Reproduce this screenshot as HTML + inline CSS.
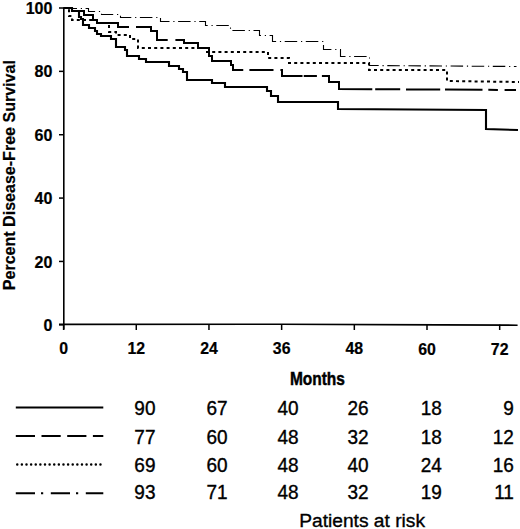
<!DOCTYPE html>
<html><head><meta charset="utf-8"><style>
html,body{margin:0;padding:0;background:#fff;}
svg{display:block;}
.b{font-family:"Liberation Sans",sans-serif;font-weight:bold;font-size:16.5px;fill:#000;stroke:#000;stroke-width:0.2px;}
.r{font-family:"Liberation Sans",sans-serif;font-size:19px;fill:#000;stroke:#000;stroke-width:0.35px;}
</style></head><body>
<svg width="520" height="529" viewBox="0 0 520 529">
<rect width="520" height="529" fill="#fff"/>
<path d="M63.8 7.2 V329.5" stroke="#000" stroke-width="1.6" fill="none"/>
<path d="M59 324.4 L280 324.2 L440 324.9 L517.6 325.2" stroke="#000" stroke-width="1.6" fill="none"/>
<path d="M59 8.00 H64" stroke="#000" stroke-width="1.5"/>
<path d="M59 71.36 H64" stroke="#000" stroke-width="1.5"/>
<path d="M59 134.72 H64" stroke="#000" stroke-width="1.5"/>
<path d="M59 198.08 H64" stroke="#000" stroke-width="1.5"/>
<path d="M59 261.44 H64" stroke="#000" stroke-width="1.5"/>
<path d="M59 324.80 H64" stroke="#000" stroke-width="1.5"/>
<path d="M63.60 324.6 V330" stroke="#000" stroke-width="1.5"/>
<path d="M136.28 324.6 V330" stroke="#000" stroke-width="1.5"/>
<path d="M208.96 324.6 V330" stroke="#000" stroke-width="1.5"/>
<path d="M281.64 324.6 V330" stroke="#000" stroke-width="1.5"/>
<path d="M354.32 324.6 V330" stroke="#000" stroke-width="1.5"/>
<path d="M427.00 324.6 V330" stroke="#000" stroke-width="1.5"/>
<path d="M499.68 324.6 V330" stroke="#000" stroke-width="1.5"/>
<text transform="translate(52.40 14.10) scale(0.955 1)" text-anchor="end" class="b" style="font-size:16.80px;">100</text>
<text transform="translate(52.40 77.46) scale(0.955 1)" text-anchor="end" class="b" style="font-size:16.80px;">80</text>
<text transform="translate(52.40 140.82) scale(0.955 1)" text-anchor="end" class="b" style="font-size:16.80px;">60</text>
<text transform="translate(52.40 204.18) scale(0.955 1)" text-anchor="end" class="b" style="font-size:16.80px;">40</text>
<text transform="translate(52.40 267.54) scale(0.955 1)" text-anchor="end" class="b" style="font-size:16.80px;">20</text>
<text transform="translate(52.40 330.90) scale(0.955 1)" text-anchor="end" class="b" style="font-size:16.80px;">0</text>
<text transform="translate(63.60 354.00) scale(0.940 1)" text-anchor="middle" class="b" style="font-size:16.90px;">0</text>
<text transform="translate(136.28 354.12) scale(0.940 1)" text-anchor="middle" class="b" style="font-size:16.90px;">12</text>
<text transform="translate(208.96 354.24) scale(0.940 1)" text-anchor="middle" class="b" style="font-size:16.90px;">24</text>
<text transform="translate(281.64 354.36) scale(0.940 1)" text-anchor="middle" class="b" style="font-size:16.90px;">36</text>
<text transform="translate(354.32 354.48) scale(0.940 1)" text-anchor="middle" class="b" style="font-size:16.90px;">48</text>
<text transform="translate(427.00 354.60) scale(0.940 1)" text-anchor="middle" class="b" style="font-size:16.90px;">60</text>
<text transform="translate(499.68 354.72) scale(0.940 1)" text-anchor="middle" class="b" style="font-size:16.90px;">72</text>
<text transform="translate(317.4 384.6) scale(0.87 1)" text-anchor="middle" class="b" style="font-size:17.8px;stroke-width:0.45px">Months</text>
<text transform="translate(14.8 175.15) rotate(-90) scale(0.973 1)" text-anchor="middle" class="b">Percent Disease-Free Survival</text>
<path d="M64.50 8.50 L88.50 8.50 L88.50 11.50 L101.50 11.50 L101.50 14.50 L120.50 14.50 L120.50 17.50 L160.50 17.50 L160.50 21.50 L205.50 21.50 L205.50 25.50 L230.50 25.50 L230.50 30.50 L259.50 30.50 L259.50 35.50 L272.50 35.50 L272.50 41.50 L323.50 41.50 L323.50 49.50 L340.50 49.50 L340.50 56.50 L369.50 56.50 L369.50 65.50 L516.50 66.50" stroke="#000" stroke-width="1.1" fill="none" stroke-dasharray="12.5 3.8 1.2 3.6"/>
<path d="M64.00 8.00 L69.00 8.00 L69.00 16.00 L72.00 16.00 L72.00 20.00 L97.00 20.00 L97.00 23.00 L109.00 23.00 L109.00 32.00 L116.00 32.00 L116.00 35.00 L130.00 35.00 L130.00 39.00 L138.00 39.00 L138.00 48.00 L206.00 48.00 L206.00 52.00 L268.00 52.00 L268.00 58.00 L289.00 58.00 L289.00 63.00 L369.00 63.00 L369.00 70.00 L447.00 70.00 L447.00 81.00 L519.00 82.00" stroke="#000" stroke-width="2" fill="none" stroke-dasharray="3 3.2"/>
<path d="M64.00 8.00 L72.00 8.00 L72.00 11.00 L84.00 11.00 L84.00 15.00 L93.00 15.00 L93.00 20.00 L97.00 20.00 L97.00 23.00 L118.00 23.00 L118.00 27.00 L129.00 27.00 M136.00 27.00 L151.00 27.00 L151.00 31.00 L157.00 31.00 L157.00 40.00 L167.70 40.00 M175.40 40.00 L184.00 40.00 L184.00 43.00 L198.00 43.00 L198.00 48.00 L209.00 48.00 L209.00 56.00 L212.00 56.00 L212.00 61.00 L231.00 61.00 L231.00 65.00 L233.00 65.00 L233.00 70.00 L243.25 70.00 M249.40 70.00 L273.50 70.00 M280.40 70.00 L282.00 70.00 L282.00 76.00 L302.50 76.00 M303.75 76.00 L316.90 76.00 M321.90 76.00 L329.00 76.00 L329.00 82.00 L339.00 82.00 L339.00 89.00 L372.30 89.19 M375.20 89.20 L400.20 89.35 M406.00 89.38 L440.20 89.57 M445.00 89.60 L482.50 89.81 M488.30 89.84 L497.90 89.90 M504.60 89.94 L516.00 90.00" stroke="#000" stroke-width="2" fill="none"/>
<path d="M64.00 8.00 L72.00 8.00 L72.00 11.00 L79.00 11.00 L79.00 17.00 L81.00 17.00 L81.00 19.00 L83.00 19.00 L83.00 25.00 L89.00 25.00 L89.00 28.00 L95.00 28.00 L95.00 31.00 L97.00 31.00 L97.00 34.00 L101.00 34.00 L101.00 36.00 L111.00 36.00 L111.00 39.00 L116.00 39.00 L116.00 47.00 L125.00 47.00 L125.00 50.00 L127.00 50.00 L127.00 56.00 L139.00 56.00 L139.00 59.00 L146.00 59.00 L146.00 62.00 L169.00 62.00 L169.00 66.00 L179.00 66.00 L179.00 69.00 L183.00 69.00 L183.00 72.00 L187.00 72.00 L187.00 80.00 L212.00 80.00 L212.00 83.00 L225.00 83.00 L225.00 87.00 L267.00 87.00 L267.00 91.00 L271.00 91.00 L271.00 96.00 L278.00 96.00 L278.00 102.00 L338.00 102.00 L338.00 109.00 L486.00 110.00 L486.00 129.00 L518.00 130.00" stroke="#000" stroke-width="2.1" fill="none"/>
<path d="M15.8 407.50 H103.3" stroke="#000" stroke-width="2.1"/>
<path d="M15.8 436.00 H103.3" stroke="#000" stroke-width="2.1" stroke-dasharray="19.2 6.5"/>
<path d="M17.25 464.50 H102" stroke="#000" stroke-width="2.5" stroke-linecap="round" stroke-dasharray="0.01 4.612"/>
<path d="M15.8 493.30 H103.3" stroke="#000" stroke-width="2.1" stroke-dasharray="19.2 6 2.2 7.6"/>
<text transform="translate(155.50 415.30) scale(0.975 1)" text-anchor="end" class="r" style="font-size:19.50px;">90</text>
<text transform="translate(227.60 415.30) scale(0.975 1)" text-anchor="end" class="r" style="font-size:19.50px;">67</text>
<text transform="translate(298.70 415.30) scale(0.975 1)" text-anchor="end" class="r" style="font-size:19.50px;">40</text>
<text transform="translate(368.70 415.30) scale(0.975 1)" text-anchor="end" class="r" style="font-size:19.50px;">26</text>
<text transform="translate(441.80 415.30) scale(0.975 1)" text-anchor="end" class="r" style="font-size:19.50px;">18</text>
<text transform="translate(513.90 415.30) scale(0.975 1)" text-anchor="end" class="r" style="font-size:19.50px;">9</text>
<text transform="translate(155.50 444.10) scale(0.975 1)" text-anchor="end" class="r" style="font-size:19.50px;">77</text>
<text transform="translate(227.60 444.10) scale(0.975 1)" text-anchor="end" class="r" style="font-size:19.50px;">60</text>
<text transform="translate(298.70 444.10) scale(0.975 1)" text-anchor="end" class="r" style="font-size:19.50px;">48</text>
<text transform="translate(368.70 444.10) scale(0.975 1)" text-anchor="end" class="r" style="font-size:19.50px;">32</text>
<text transform="translate(441.80 444.10) scale(0.975 1)" text-anchor="end" class="r" style="font-size:19.50px;">18</text>
<text transform="translate(513.90 444.10) scale(0.975 1)" text-anchor="end" class="r" style="font-size:19.50px;">12</text>
<text transform="translate(155.50 472.20) scale(0.975 1)" text-anchor="end" class="r" style="font-size:19.50px;">69</text>
<text transform="translate(227.60 472.20) scale(0.975 1)" text-anchor="end" class="r" style="font-size:19.50px;">60</text>
<text transform="translate(298.70 472.20) scale(0.975 1)" text-anchor="end" class="r" style="font-size:19.50px;">48</text>
<text transform="translate(368.70 472.20) scale(0.975 1)" text-anchor="end" class="r" style="font-size:19.50px;">40</text>
<text transform="translate(441.80 472.20) scale(0.975 1)" text-anchor="end" class="r" style="font-size:19.50px;">24</text>
<text transform="translate(513.90 472.20) scale(0.975 1)" text-anchor="end" class="r" style="font-size:19.50px;">16</text>
<text transform="translate(155.50 499.30) scale(0.975 1)" text-anchor="end" class="r" style="font-size:19.50px;">93</text>
<text transform="translate(227.60 499.30) scale(0.975 1)" text-anchor="end" class="r" style="font-size:19.50px;">71</text>
<text transform="translate(298.70 499.30) scale(0.975 1)" text-anchor="end" class="r" style="font-size:19.50px;">48</text>
<text transform="translate(368.70 499.30) scale(0.975 1)" text-anchor="end" class="r" style="font-size:19.50px;">32</text>
<text transform="translate(441.80 499.30) scale(0.975 1)" text-anchor="end" class="r" style="font-size:19.50px;">19</text>
<text transform="translate(513.90 499.30) scale(0.975 1)" text-anchor="end" class="r" style="font-size:19.50px;">11</text>
<text x="299.2" y="526.6" class="r" style="font-size:19.2px">Patients at risk</text>
</svg>
</body></html>
